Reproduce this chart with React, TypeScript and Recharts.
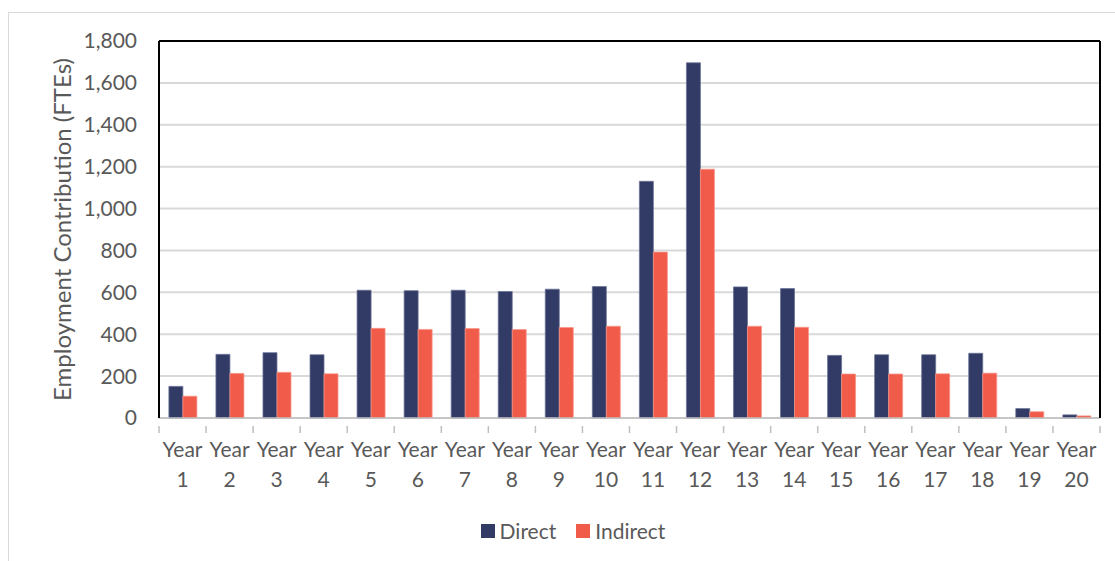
import React from "react";
import { BarChart, Bar, XAxis, YAxis, CartesianGrid } from "recharts";

// Categories and tick labels
const years: string[] = [
  "1", "2", "3", "4", "5", "6", "7", "8", "9", "10",
  "11", "12", "13", "14", "15", "16", "17", "18", "19", "20",
];
const yTicks: number[] = [0, 200, 400, 600, 800, 1000, 1200, 1400, 1600, 1800];

// Employment contribution (FTEs) per year
const direct: number[] = [
  151, 304, 312, 302, 610, 608, 610, 604, 615, 628,
  1130, 1696, 626, 618, 299, 302, 302, 309, 45, 15,
];
const indirect: number[] = [
  104, 213, 218, 211, 428, 423, 427, 422, 432, 438,
  792, 1188, 438, 433, 210, 210, 211, 214, 30, 10,
];

const series = [
  { key: "direct", name: "Direct", color: "#323B65", edge: "#6a7296" },
  { key: "indirect", name: "Indirect", color: "#F15B4A", edge: "#f7958a" },
];

const data = years.map((y, i) => ({
  year: y,
  direct: direct[i],
  indirect: indirect[i],
}));

const W = 1115;
const H = 561;
const MARGIN = { top: 40, right: 14, bottom: 0, left: 0 };
const Y_AXIS_W = 159;
const X_AXIS_H = 143;
const FONT = "Lato, 'Open Sans', sans-serif";
const TEXT = "#595959";
const BAND = (W - MARGIN.left - MARGIN.right - Y_AXIS_W - 1) / years.length;

const fmt = (v: number) => v.toLocaleString("en-US");

const YearTick = (props: any) => {
  const { x, y, payload, index } = props;
  const left = x - BAND / 2;
  const right = x + BAND / 2;
  return (
    <g>
      <line x1={left} y1={y} x2={left} y2={y + 7} stroke="#bfbfbf" strokeWidth={1.5} />
      {index === years.length - 1 && (
        <line x1={right} y1={y} x2={right} y2={y + 7} stroke="#bfbfbf" strokeWidth={1.5} />
      )}
      <text x={x} y={y + 31} textAnchor="middle" fill={TEXT} fontSize={21} fontFamily={FONT}>
        Year
      </text>
      <text x={x} y={y + 61} textAnchor="middle" fill={TEXT} fontSize={21} fontFamily={FONT}>
        {payload.value}
      </text>
    </g>
  );
};

const Legend = () => (
  <div
    style={{
      position: "absolute",
      top: 518,
      left: 0,
      width: 1146,
      display: "flex",
      justifyContent: "center",
      alignItems: "center",
      fontFamily: FONT,
      fontSize: 21,
      color: TEXT,
    }}
  >
    {series.map((s) => (
      <div key={s.key} style={{ display: "flex", alignItems: "center", margin: "0 10px" }}>
        <span
          style={{
            display: "inline-block",
            width: 14,
            height: 14,
            background: s.color,
            marginRight: 5,
          }}
        />
        <span>{s.name}</span>
      </div>
    ))}
  </div>
);

export default function App() {
  return (
    <div
      style={{
        position: "fixed",
        top: 0,
        left: 0,
        width: W,
        height: H,
        overflow: "hidden",
        background: "#fff",
      }}
    >
      <div
        style={{
          position: "absolute",
          left: 8,
          top: 12,
          width: 1300,
          height: 800,
          border: "1.5px solid #d9d9d9",
        }}
      />
      <div style={{ position: "absolute", left: 0, top: 0 }}>
        <BarChart
          width={W}
          height={H}
          data={data}
          margin={MARGIN}
          barCategoryGap="21%"
          barGap={0}
        >
          <CartesianGrid vertical={false} stroke="#d9d9d9" strokeWidth={2} />
          <XAxis
            dataKey="year"
            height={X_AXIS_H}
            interval={0}
            tickLine={false}
            axisLine={{ stroke: "#bfbfbf", strokeWidth: 1.5 }}
            tick={<YearTick />}
          />
          <XAxis
            xAxisId="top"
            dataKey="year"
            orientation="top"
            height={1}
            tick={false}
            tickLine={false}
            axisLine={{ stroke: "#000", strokeWidth: 2 }}
          />
          <YAxis
            width={Y_AXIS_W}
            domain={[0, 1800]}
            ticks={yTicks}
            tickFormatter={fmt}
            tickLine={false}
            tickSize={0}
            tickMargin={22}
            axisLine={{ stroke: "#000", strokeWidth: 2 }}
            tick={{ fill: TEXT, fontSize: 21, fontFamily: FONT }}
            label={(p: any) => {
              const vb = p.viewBox || {};
              const cy = (vb.y ?? MARGIN.top) + (vb.height ?? 377) / 2;
              return (
                <text
                  x={61}
                  y={cy}
                  transform={`rotate(-90, 61, ${cy})`}
                  textAnchor="middle"
                  dominantBaseline="central"
                  fill={TEXT}
                  fontSize={24}
                  fontFamily={FONT}
                >
                  Employment Contribution (FTEs)
                </text>
              );
            }}
          />
          <YAxis
            yAxisId="right"
            orientation="right"
            width={1}
            domain={[0, 1800]}
            tick={false}
            tickLine={false}
            axisLine={{ stroke: "#000", strokeWidth: 2 }}
          />
          {series.map((s) => (
            <Bar
              key={s.key}
              dataKey={s.key}
              name={s.name}
              fill={s.color}
              stroke={s.edge}
              strokeWidth={0.75}
              isAnimationActive={false}
            />
          ))}
        </BarChart>
      </div>
      <Legend />
    </div>
  );
}
